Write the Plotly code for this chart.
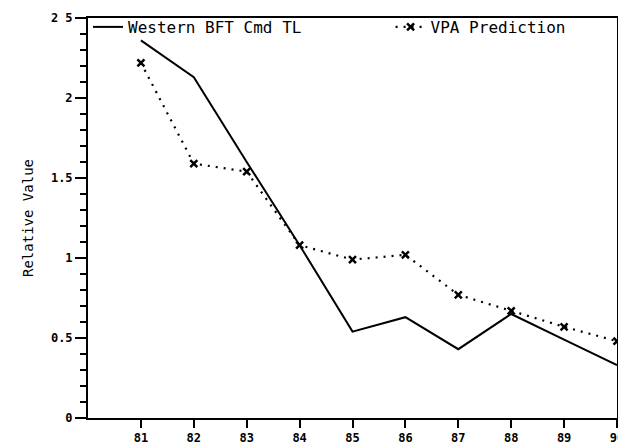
import plotly.graph_objects as go

years = [81, 82, 83, 84, 85, 86, 87, 88, 89, 90]
year_labels = ["81", "82", "83", "84", "85", "86", "87", "88", "89", "90"]
western_bft = [2.36, 2.13, 1.60, 1.08, 0.54, 0.63, 0.43, 0.65, 0.49, 0.33]
vpa_pred = [2.22, 1.59, 1.54, 1.08, 0.99, 1.02, 0.77, 0.67, 0.57, 0.48]
y_ticks = [0, 0.5, 1, 1.5, 2, 2.5]
y_tick_labels = ["0", "0.5", "1", "1.5", "2", "2 5"]

font_fam = "DejaVu Sans Mono"

fig = go.Figure()
fig.add_trace(go.Scatter(
    x=years, y=western_bft, mode="lines", name="Western BFT Cmd TL",
    line=dict(color="black", width=2), legend="legend",
))
fig.add_trace(go.Scatter(
    x=years, y=vpa_pred, mode="lines+markers", name="VPA Prediction",
    line=dict(color="black", width=2.2, dash="2px,6px"),
    marker=dict(symbol="x-thin-open", size=7, color="black", line=dict(color="black", width=2.5)),
    legend="legend2",
))

leg_common = dict(
    orientation="h", yanchor="top", y=1.02, xanchor="left",
    bgcolor="rgba(0,0,0,0)", font=dict(family=font_fam, size=16, color="black"),
    itemwidth=30,
)

fig.update_layout(
    width=618, height=439,
    margin=dict(l=80, r=2, t=10, b=27),
    paper_bgcolor="white", plot_bgcolor="white",
    font=dict(family=font_fam, color="black", size=11),
    showlegend=True,
    legend=dict(x=0.0, **leg_common),
    legend2=dict(x=0.572, **leg_common),
    xaxis=dict(
        range=[80, 90], tickmode="array", tickvals=years, ticktext=year_labels,
        showgrid=False, zeroline=False, showline=True, linecolor="black", linewidth=1.5,
        mirror=True, ticks="outside", ticklen=8, tickcolor="black", tickwidth=1.5,
        tickfont=dict(family=font_fam, size=12, color="black", weight="bold"),
        ticklabeloverflow="allow",
    ),
    yaxis=dict(
        range=[0, 2.5], tickmode="array", tickvals=y_ticks, ticktext=y_tick_labels,
        showgrid=False, zeroline=False, showline=True, linecolor="black", linewidth=2,
        mirror=True, ticks="outside", ticklen=11, tickcolor="black", tickwidth=1.5,
        tickfont=dict(family=font_fam, size=12, color="black", weight="bold"),
        title=dict(text="Relative Value", font=dict(family=font_fam, size=14, color="black"), standoff=14),
        minor=dict(dtick=0.1, ticks="outside", ticklen=6, tickcolor="black", tickwidth=1.5, showgrid=False),
    ),
)

fig.write_html("out.html")
